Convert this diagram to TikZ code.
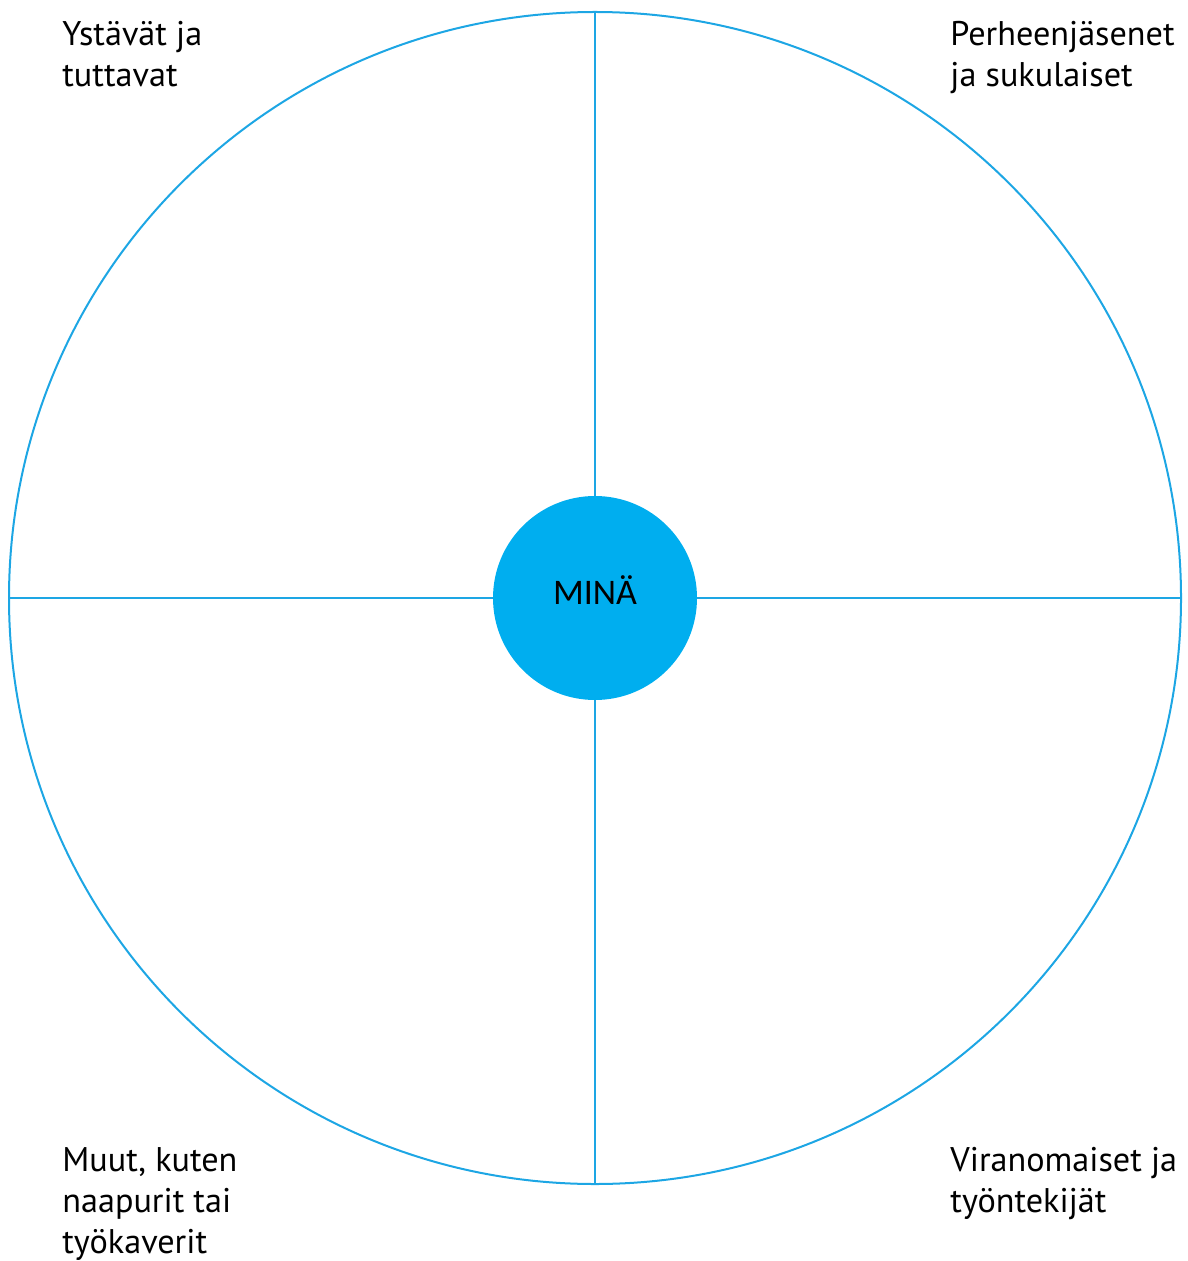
\documentclass[tikz,border=0pt]{standalone}
\usepackage{fontspec}
\setmainfont{PT Sans}
\newfontfamily\minafont{Carlito}
\usepackage{tikz}
\usetikzlibrary{calc}
\usetikzlibrary{positioning}
\definecolor{ringblue}{HTML}{1DA6E4}
\definecolor{minablue}{HTML}{00AEEF}

\begin{document}
\begin{tikzpicture}[x=0.5pt, y=-0.5pt,
  ring/.style={draw=ringblue, line width=1pt},
  corner/.style={inner sep=0pt, align=left, font=\fontsize{17.1}{20.5}\selectfont}]
\useasboundingbox (0,0) rectangle (1187,1261);

\node[ring, circle, inner sep=0pt, minimum size=586pt] (wheel) at (595,598) {};
\node[circle, fill=minablue, inner sep=0pt, minimum size=102pt,
      text height=0.64em, text depth=0pt,
      font=\minafont\fontsize{18}{20}\selectfont] (mina) at (595,598) {MINÄ};

\draw[ring] (wheel.north) -- (mina.north);
\draw[ring] (mina.south) -- (wheel.south);
\draw[ring] (wheel.west) -- (mina.west);
\draw[ring] (mina.east) -- (wheel.east);

\node[corner, anchor=north west] (friends) at (62,21) {Ystävät ja\\tuttavat};
\node[corner, anchor=north west] (family) at (950,21) {Perheenjäsenet\\ja sukulaiset};
\node[corner, anchor=north west] (others) at (62,1147) {Muut, kuten\\naapurit tai\\työkaverit};
\node[corner, anchor=north west] (officials) at (950,1147) {Viranomaiset ja\\työntekijät};

\end{tikzpicture}
\end{document}
